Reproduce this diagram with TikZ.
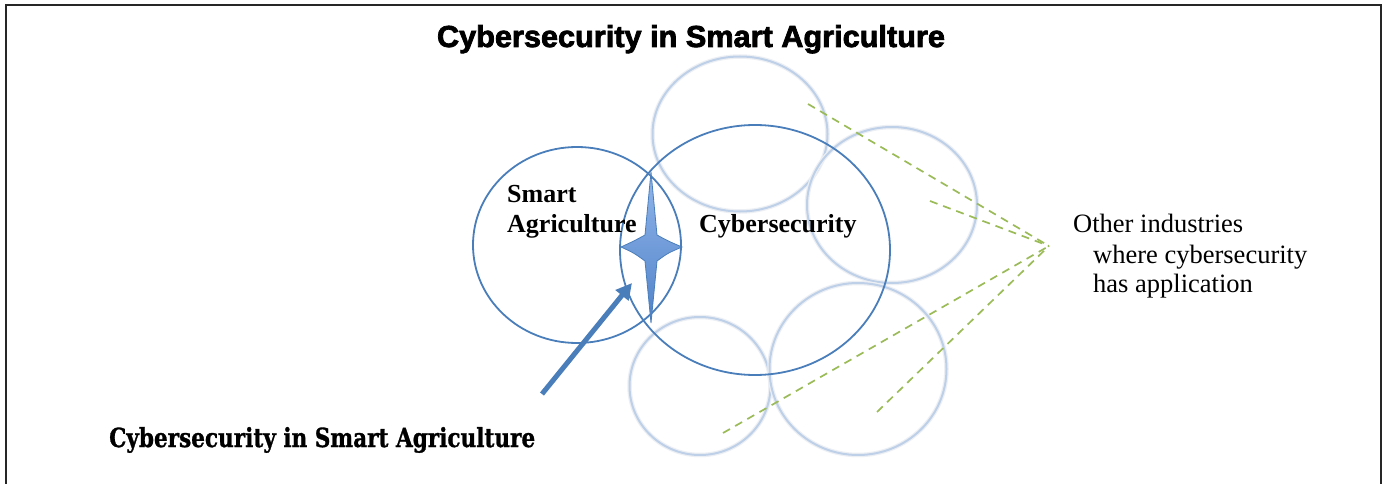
\documentclass[tikz,border=0pt]{standalone}
\usepackage{fontspec}
\usepackage{graphicx}
\setmainfont{Liberation Serif}
\newfontfamily\titlefont[BoldFeatures={FakeBold=2.5}]{Liberation Sans}
\newfontfamily\labelfont[BoldFeatures={FakeBold=1.2}]{DejaVu Serif}
\usetikzlibrary{shapes.geometric,arrows.meta}
\definecolor{darkb}{RGB}{74,126,187}
\definecolor{lightb}{RGB}{190,208,232}
\definecolor{halo}{RGB}{236,239,244}
\definecolor{dgreen}{RGB}{155,187,89}
\definecolor{starTop}{RGB}{145,182,235}
\definecolor{starBot}{RGB}{80,130,200}
\begin{document}
\begin{tikzpicture}[x=1pt,y=-1pt,
  ring/.style={ellipse, draw=darkb, line width=1.8pt, inner sep=0pt},
  lring/.style={ellipse, draw=lightb, line width=2pt, inner sep=0pt,
    preaction={draw=halo, line width=4.5pt}},
  gdash/.style={draw=dgreen, line width=1.7pt, dash pattern=on 8pt off 6pt},
  bigarrow/.style={draw=darkb, line width=5pt, -{Triangle[length=16pt,width=16pt]}},
  lbl/.style={inner sep=0pt, font=\fontsize{26}{30}\selectfont\bfseries},
  side/.style={anchor=base west, inner sep=0pt, font=\fontsize{26.5}{30}\selectfont}]
\useasboundingbox (0,0) rectangle (1385,484);
\fill[white] (0,0) rectangle (1385,484);
% frame (bottom edge cut off)
\draw[black!85, line width=2pt] (6,484) -- (6,5) -- (1381,5) -- (1381,484);

% title
\node[anchor=base, inner sep=0pt] (title) at (691,47)
  {\resizebox{508pt}{22pt}{\titlefont\bfseries Cybersecurity in Smart Agriculture}};

% light rings (other industries)
\node[lring, minimum width=175pt, minimum height=155pt] (top) at (740,134) {};
\node[lring, minimum width=170pt, minimum height=156pt] (right) at (892,205) {};
\node[lring, minimum width=141pt, minimum height=138pt] (botl) at (700,386) {};
\node[lring, minimum width=177pt, minimum height=172pt] (botr) at (858,369) {};

% main rings
\node[ring, minimum width=208pt, minimum height=196pt] (agri) at (577,245) {};
\node[ring, minimum width=270pt, minimum height=250pt] (cyber) at (755,250) {};

% labels
\node[lbl, anchor=base west] (smart) at (507,202) {Smart};
\node[lbl, anchor=base west] (agritext) at (507,232) {Agriculture};
\node[lbl, anchor=base west] (cybertext) at (699,232) {Cybersecurity};

% four-pointed star
\shade[top color=starTop, bottom color=starBot, draw=darkb, line width=0.8pt]
  (651,172) -- (657,235) .. controls (668,241) .. (682,247)
  .. controls (668,253) .. (657,261) -- (651,323) -- (645,261)
  .. controls (634,253) .. (621,247)
  .. controls (634,241) .. (645,235) -- cycle;

% arrow to the intersection
\coordinate (atail) at (542,394);
\coordinate (atip) at (632,283);
\draw[bigarrow] (atail) -- (atip);

% bottom label
\node[anchor=base west, inner sep=0pt] (bottomlabel) at (109,447)
  {\resizebox{426pt}{20pt}{\labelfont\bfseries Cybersecurity in Smart Agriculture}};

% other industries label
\node[side] (other1) at (1073,232) {Other industries};
\node[side] (other2) at (1093,263) {where cybersecurity};
\node[side] (other3) at (1093,292) {has application};

% dashed pointers
\coordinate (hub) at (1049,246);
\coordinate (p1) at (808,104);
\coordinate (p2) at (930,201);
\coordinate (p3) at (723,433);
\coordinate (p4) at (877,412);
\draw[gdash] (p1) -- (hub);
\draw[gdash] (p2) -- (hub);
\draw[gdash] (p3) -- (hub);
\draw[gdash] (p4) -- (hub);
\end{tikzpicture}
\end{document}
